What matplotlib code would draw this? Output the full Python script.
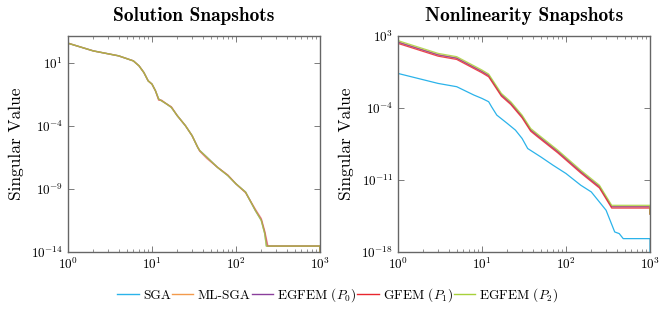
import numpy as np
import matplotlib
matplotlib.use("Agg")
from matplotlib import pyplot as plt

plt.rcParams['font.family'] = ['cmr10', 'DejaVu Serif']
plt.rcParams['mathtext.fontset'] = 'cm'
plt.rcParams['axes.formatter.use_mathtext'] = True
plt.rcParams['axes.unicode_minus'] = False

names = ["SGA", "ML-SGA", "EGFEM ($P_0$)", "GFEM ($P_1$)", "EGFEM ($P_2$)"]
colors = ["#2bb3ea", "#f39a4c", "#8a3f9c", "#e8262e", "#a7d13a"]

# solution snapshots: mode index and log10 of singular value
sol_x = [1, 2, 4, 6, 7, 8, 9, 10, 11, 12, 13, 15, 17, 20, 25, 30, 35, 37, 45,
         60, 80, 100, 130, 170, 200, 220, 230, 1000, 1000]
sol_y = [2.53, 1.92, 1.53, 1.13, 0.74, 0.21, -0.45, -0.71, -1.24, -1.89, -2.03,
         -2.29, -2.55, -3.21, -4.0, -4.79, -5.71, -5.97, -6.5, -7.29, -7.95,
         -8.61, -9.26, -10.71, -11.5, -12.55, -13.53, -13.53, -14.2]
# small differences between methods near the cut-off (red wiggle)
sol_shift = {"GFEM ($P_1$)": [0, 0, 0, 0, 0, 0, 0, 0, 0, -0.1, 0.05, 0, 0.05, 0, 0,
                              0, 0, -0.05, -0.1, 0, 0.05, 0, -0.05, 0.1, 0.15, 0.2, 0, 0, 0],
             "EGFEM ($P_0$)": [0] * 24 + [0.05, 0.1, 0, 0, 0]}
sol_x_end = {"GFEM ($P_1$)": 240, "EGFEM ($P_0$)": 236}

# nonlinearity snapshots
non_x = [1, 3, 5, 10, 12, 17, 22, 30, 38, 45, 80, 150, 250, 350, 1000, 1000]
non_top = [2.55, 1.31, 0.99, -0.31, -0.70, -2.58, -3.39, -4.69, -5.99, -6.48,
           -8.10, -10.05, -11.51, -13.46, -13.46, -14.3]
non_offset = {"ML-SGA": -0.12, "EGFEM ($P_0$)": -0.15, "GFEM ($P_1$)": -0.27,
              "EGFEM ($P_2$)": 0.0}
sga_x = [1, 3, 5, 8, 10, 12, 13, 15, 20, 25, 30, 35, 50, 70, 100, 150, 200,
         300, 380, 430, 480, 1000, 1000]
sga_y = [-0.64, -1.61, -1.93, -2.74, -3.07, -3.39, -3.88, -4.69, -5.50, -6.15,
         -6.96, -7.94, -8.75, -9.56, -10.37, -11.51, -12.16, -13.94, -16.05,
         -16.21, -16.70, -16.70, -18.0]

fig = plt.figure(figsize=(6.65, 3.14), dpi=100)
ax1 = fig.add_axes([68 / 665, 1 - 252 / 314, 252 / 665, 216 / 314])
ax2 = fig.add_axes([398 / 665, 1 - 252 / 314, 252 / 665, 216 / 314])

handles = []
for name, c in zip(names, colors):
    sh = sol_shift.get(name, [0] * len(sol_y))
    xs = list(sol_x)
    if name in sol_x_end:
        xs[26] = sol_x_end[name]
    ys = 10.0 ** (np.array(sol_y) + np.array(sh))
    a = 0.75 if name == "EGFEM ($P_2$)" else 0.5
    ax1.plot(xs, ys, color=c, lw=1.0, alpha=a)
    # legend handles use the plain colours
    h, = ax1.plot([], [], color=c, lw=1.0)
    handles.append(h)

for name, c in zip(names, colors):
    if name == "SGA":
        ax2.plot(sga_x, 10.0 ** np.array(sga_y), color=c, lw=0.9)
    else:
        ys = np.array(non_top) + non_offset[name]
        ys[-1] = non_top[-1]
        ax2.plot(non_x, 10.0 ** ys, color=c, lw=0.9, alpha=0.85)

for ax, title, ylim, yt in [(ax1, "Solution Snapshots", (1e-14, 10 ** 3.1), [1e1, 1e-4, 1e-9, 1e-14]),
                            (ax2, "Nonlinearity Snapshots", (1e-18, 1e3), [1e3, 1e-4, 1e-11, 1e-18])]:
    ax.set_xscale('log')
    ax.set_yscale('log')
    ax.set_xlim(1, 1000)
    ax.set_ylim(*ylim)
    ax.set_yticks(yt)
    ax.yaxis.set_minor_locator(matplotlib.ticker.NullLocator())
    ax.tick_params(which='both', direction='in', top=True, right=True,
                   labelsize=9.5, color='#666666')
    ax.tick_params(which='major', length=4, width=0.6)
    ax.tick_params(which='minor', length=2, width=0.5)
    for s in ax.spines.values():
        s.set_color('#666666')
        s.set_linewidth(1.0)
    ax.set_title(title, fontfamily='cmb10', fontsize=14, pad=11)
    ax.set_ylabel("Singular Value", fontsize=12.5, labelpad=5)

fig.legend(handles, names, loc='center', bbox_to_anchor=(0.508, 0.06), ncol=5,
           frameon=False, fontsize=9.6, handlelength=1.6, handletextpad=0.3,
           columnspacing=0.1)

fig.savefig("out.png", dpi=100)
